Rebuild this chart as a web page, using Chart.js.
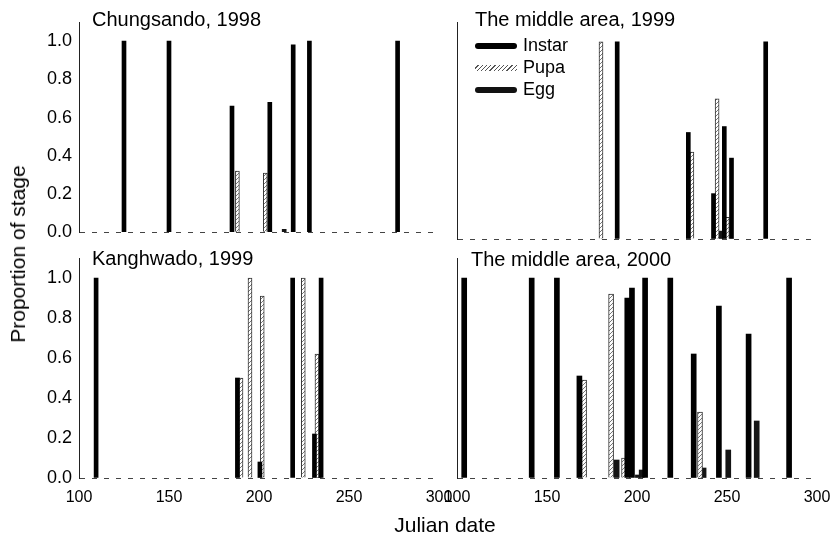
<!DOCTYPE html>
<html>
<head>
<meta charset="utf-8">
<script src="https://cdn.jsdelivr.net/npm/chart.js@4.4.0/dist/chart.umd.min.js"></script>
<style>
  body { margin: 0; background: #fff; }
  #wrap { position: relative; width: 836px; height: 539px; font-family: "Liberation Sans", Arial, sans-serif; color: #000; }
  canvas { position: absolute; }
  .ylab { position: absolute; left: 18px; top: 254px; font-size: 21px; white-space: nowrap;
          transform: translate(-50%, -50%) rotate(-90deg); }
  .xlab { position: absolute; left: 445px; top: 525px; font-size: 21px; white-space: nowrap;
          transform: translate(-50%, -50%); }
  .legend { position: absolute; left: 475px; top: 34px; font-size: 18px; }
  .legend div { height: 22px; line-height: 22px; white-space: nowrap; }
  .legend span { display: inline-block; width: 42px; height: 6px; margin-right: 6px; vertical-align: middle; border-radius: 3px; }
  .sw-instar { background: #000; }
  .sw-egg { background: #111; }
  .sw-pupa { background: repeating-linear-gradient(135deg, #fff 0 2px, #555 2px 3px); border-radius: 0 !important; }
</style>
</head>
<body>
<div id="wrap">
  <canvas id="tl" width="460" height="250" style="left:0;top:0"></canvas>
  <canvas id="tr" width="396" height="250" style="left:440px;top:0"></canvas>
  <canvas id="bl" width="460" height="299" style="left:0;top:240px"></canvas>
  <canvas id="br" width="396" height="299" style="left:440px;top:240px"></canvas>
  <div class="ylab">Proportion of stage</div>
  <div class="xlab">Julian date</div>
  <div class="legend">
    <div><span class="sw-instar"></span>Instar</div>
    <div><span class="sw-pupa"></span>Pupa</div>
    <div><span class="sw-egg"></span>Egg</div>
  </div>
</div>
<script>
// Axis ticks
const X_TICKS = [100, 150, 200, 250, 300];
const Y_TICKS = [0, 0.2, 0.4, 0.6, 0.8, 1.0];

// Chungsando, 1998
const CHUNG98_INSTAR_DAYS = [125, 150, 185, 206, 219, 228, 277];
const CHUNG98_INSTAR_VALS = [1.0, 1.0, 0.66, 0.68, 0.98, 1.0, 1.0];
const CHUNG98_PUPA_DAYS = [188, 203.5];
const CHUNG98_PUPA_VALS = [0.32, 0.31];
const CHUNG98_EGG_DAYS = [214];
const CHUNG98_EGG_VALS = [0.015];

// The middle area, 1999
const MID99_INSTAR_DAYS = [189, 228.5, 242.5, 248.5, 252.5, 271.5];
const MID99_INSTAR_VALS = [1.0, 0.54, 0.23, 0.57, 0.41, 1.0];
const MID99_PUPA_DAYS = [180, 230.5, 244.5, 250.2];
const MID99_PUPA_VALS = [1.0, 0.44, 0.71, 0.11];
const MID99_EGG_DAYS = [246.7];
const MID99_EGG_VALS = [0.04];

// Kanghwado, 1999
const KANG99_INSTAR_DAYS = [109.5, 188, 200.5, 218.7, 230.8, 234.5];
const KANG99_INSTAR_VALS = [1.0, 0.5, 0.08, 1.0, 0.22, 1.0];
const KANG99_PUPA_DAYS = [190, 195, 201.8, 224.6, 232.2];
const KANG99_PUPA_VALS = [0.5, 1.0, 0.91, 1.0, 0.62];
const KANG99_EGG_DAYS = [233.4];
const KANG99_EGG_VALS = [0.17];

// The middle area, 2000
const MID00_INSTAR_DAYS = [104, 141.5, 155.5, 168, 194.6, 197.2, 204.5, 218.5, 231.5, 245.5, 262, 284.5];
const MID00_INSTAR_VALS = [1.0, 1.0, 1.0, 0.51, 0.9, 0.95, 1.0, 1.0, 0.62, 0.86, 0.72, 1.0];
const MID00_PUPA_DAYS = [170.6, 185.6, 192.8, 235];
const MID00_PUPA_VALS = [0.49, 0.92, 0.1, 0.33];
const MID00_EGG_DAYS = [188.7, 200.5, 202.6, 237, 250.7, 266.5];
const MID00_EGG_VALS = [0.09, 0.015, 0.04, 0.05, 0.14, 0.285];

const FONT = '"Liberation Sans", Arial, sans-serif';

// diagonal hatch used for the pupa bars
function makeHatch() {
  const c = document.createElement('canvas');
  c.width = 4;
  c.height = 4;
  const g = c.getContext('2d');
  g.fillStyle = '#fff';
  g.fillRect(0, 0, 4, 4);
  g.strokeStyle = '#777';
  g.lineWidth = 1;
  g.beginPath();
  g.moveTo(0, 4); g.lineTo(4, 0);
  g.moveTo(-1, 1); g.lineTo(1, -1);
  g.moveTo(3, 5); g.lineTo(5, 3);
  g.stroke();
  return g.createPattern(c, 'repeat');
}
const PUPA_FILL = makeHatch();

const pts = (days, vals) => days.map((d, i) => ({ x: d, y: vals[i] }));

// panel title drawn inside the plot frame
const panelTitle = {
  id: 'panelTitle',
  afterDraw(chart, args, opts) {
    const ctx = chart.ctx;
    ctx.save();
    ctx.font = '20px ' + FONT;
    ctx.fillStyle = '#000';
    ctx.textBaseline = 'alphabetic';
    ctx.fillText(opts.text, opts.x, opts.y);
    ctx.restore();
  },
};

function makePanel(id, p) {
  const barW = p.barW || 4;
  return new Chart(document.getElementById(id), {
    type: 'bar',
    plugins: [panelTitle],
    data: {
      datasets: [
        { label: 'Instar', data: pts(p.instar[0], p.instar[1]), backgroundColor: '#000', barThickness: barW },
        {
          label: 'Pupa', data: pts(p.pupa[0], p.pupa[1]), backgroundColor: PUPA_FILL,
          borderColor: '#333', borderWidth: { left: 1, right: 1, top: 1, bottom: 0 }, barThickness: barW,
        },
        { label: 'Egg', data: pts(p.egg[0], p.egg[1]), backgroundColor: '#151515', barThickness: barW },
      ],
    },
    options: {
      responsive: false,
      animation: false,
      layout: { padding: p.pad },
      plugins: {
        legend: { display: false },
        tooltip: { enabled: false },
        panelTitle: p.title,
      },
      scales: {
        x: {
          type: 'linear',
          min: 100,
          max: 300,
          offset: false,
          stacked: true,
          // tick marks hidden but keep their length, so labels sit lower without widening the side padding
          grid: { display: false, offset: false, drawTicks: true, tickLength: 7 },
          border: { display: false },
          afterBuildTicks: (scale) => { scale.ticks = X_TICKS.map((v) => ({ value: v })); },
          afterFit: (scale) => { scale.height = p.xH; },
          ticks: {
            display: p.xLabels,
            autoSkip: false,
            maxRotation: 0,
            padding: 3,
            color: '#000',
            font: { family: FONT, size: 16 },
            callback: (v) => String(v),
          },
        },
        y: {
          min: 0,
          max: 1.1,
          stacked: false,
          // only the zero line is shown, broken like the scanned baseline
          grid: {
            display: true,
            drawTicks: false,
            lineWidth: 1,
            color: (ctx) => (ctx.tick && ctx.tick.value === 0 ? '#444' : 'rgba(0,0,0,0)'),
          },
          border: { display: true, color: '#222', width: 1, dash: [5, 7] },
          afterBuildTicks: (scale) => { scale.ticks = Y_TICKS.map((v) => ({ value: v })); },
          afterFit: (scale) => { scale.width = p.yW; },
          ticks: {
            display: p.yLabels,
            padding: 7,
            color: '#000',
            font: { family: FONT, size: 18 },
            callback: (v) => v.toFixed(1),
          },
        },
      },
    },
  });
}

makePanel('tl', {
  instar: [CHUNG98_INSTAR_DAYS, CHUNG98_INSTAR_VALS],
  pupa: [CHUNG98_PUPA_DAYS, CHUNG98_PUPA_VALS],
  egg: [CHUNG98_EGG_DAYS, CHUNG98_EGG_VALS],
  title: { text: 'Chungsando, 1998', x: 92, y: 26 },
  pad: { left: 0, top: 22, right: 21, bottom: 11 },
  xH: 0, yW: 79, xLabels: false, yLabels: true,
});

makePanel('tr', {
  instar: [MID99_INSTAR_DAYS, MID99_INSTAR_VALS],
  pupa: [MID99_PUPA_DAYS, MID99_PUPA_VALS],
  egg: [MID99_EGG_DAYS, MID99_EGG_VALS],
  title: { text: 'The middle area, 1999', x: 35, y: 26 },
  pad: { left: 0, top: 22, right: 19, bottom: 11 },
  xH: 0, yW: 17, xLabels: false, yLabels: false,
});

makePanel('bl', {
  instar: [KANG99_INSTAR_DAYS, KANG99_INSTAR_VALS],
  pupa: [KANG99_PUPA_DAYS, KANG99_PUPA_VALS],
  egg: [KANG99_EGG_DAYS, KANG99_EGG_VALS],
  title: { text: 'Kanghwado, 1999', x: 92, y: 25 },
  pad: { left: 0, top: 18, right: 21, bottom: 31 },
  xH: 30, yW: 79, xLabels: true, yLabels: true,
});

makePanel('br', {
  instar: [MID00_INSTAR_DAYS, MID00_INSTAR_VALS],
  pupa: [MID00_PUPA_DAYS, MID00_PUPA_VALS],
  egg: [MID00_EGG_DAYS, MID00_EGG_VALS],
  title: { text: 'The middle area, 2000', x: 31, y: 26 },
  pad: { left: 0, top: 18, right: 19, bottom: 31 },
  xH: 30, yW: 17, xLabels: true, yLabels: false, barW: 5,
});
</script>
</body>
</html>
